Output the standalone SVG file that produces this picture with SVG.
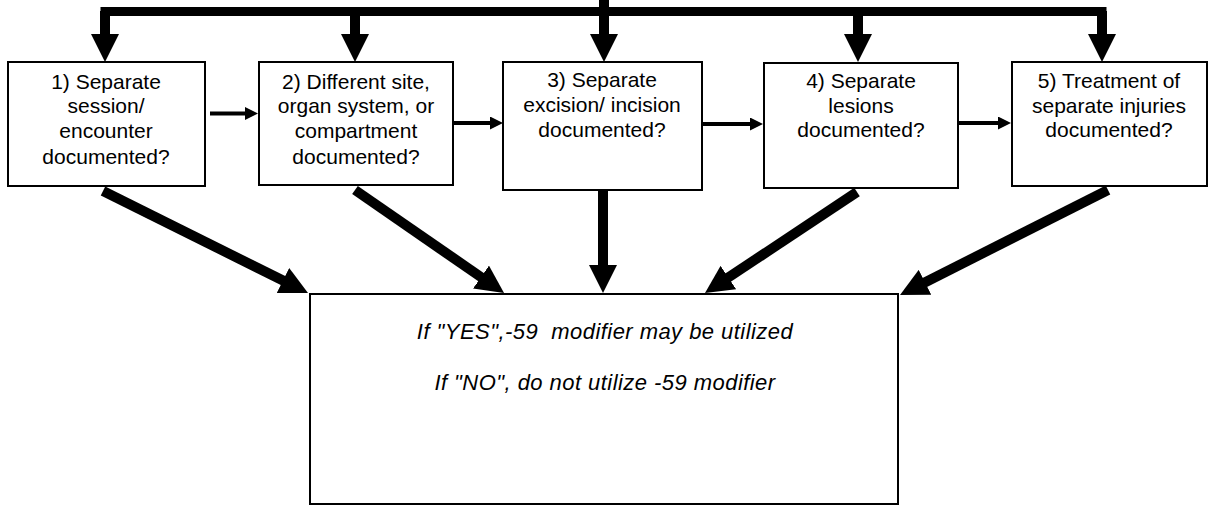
<svg xmlns="http://www.w3.org/2000/svg" width="1209" height="506" viewBox="0 0 1209 506">
<style>
.box{fill:#fff;stroke:#000;stroke-width:2}
.t{font-family:"Liberation Sans",Arial,sans-serif;font-size:21px;fill:#000;text-anchor:middle}
.it{font-family:"Liberation Sans",Arial,sans-serif;font-size:22px;font-style:italic;fill:#000;text-anchor:middle;white-space:pre;letter-spacing:0.45px}
.thick{stroke:#000;stroke-width:10;fill:none}
.thin{stroke:#000;stroke-width:4;fill:none}
</style>
<defs>
<marker id="big" markerUnits="userSpaceOnUse" viewBox="0 0 28 28" markerWidth="28" markerHeight="28" refX="13" refY="14" orient="auto">
<path d="M0,0 L28,14 L0,28 z" fill="#000"/>
</marker>
<marker id="small" markerUnits="userSpaceOnUse" viewBox="0 0 13 13" markerWidth="13" markerHeight="13" refX="6" refY="6.5" orient="auto">
<path d="M0,0 L13,6.5 L0,13 z" fill="#000"/>
</marker>
</defs>
<g id="n1"><rect class="box" x="8" y="62" width="197" height="124"/>
<text class="t" x="106" y="89">1) Separate</text><text class="t" x="106" y="113">session/</text><text class="t" x="106" y="138">encounter</text><text class="t" x="106" y="164">documented?</text></g>
<g id="n2"><rect class="box" x="259" y="62" width="194" height="123"/>
<text class="t" x="356" y="89">2) Different site,</text><text class="t" x="356" y="113">organ system, or</text><text class="t" x="356" y="138">compartment</text><text class="t" x="356" y="164">documented?</text></g>
<g id="n3"><rect class="box" x="503" y="62" width="199" height="128"/>
<text class="t" x="602" y="87">3) Separate</text><text class="t" x="602" y="112">excision/ incision</text><text class="t" x="602" y="137">documented?</text></g>
<g id="n4"><rect class="box" x="764" y="63" width="194" height="125"/>
<text class="t" x="861" y="88">4) Separate</text><text class="t" x="861" y="113">lesions</text><text class="t" x="861" y="137">documented?</text></g>
<g id="n5"><rect class="box" x="1012" y="62" width="195" height="124"/>
<text class="t" x="1109" y="88">5) Treatment of</text><text class="t" x="1109" y="113">separate injuries</text><text class="t" x="1109" y="137">documented?</text></g>
<g id="result"><rect class="box" x="310" y="294" width="588" height="210"/>
<text class="it" x="605" y="339">If "YES",-59  modifier may be utilized</text>
<text class="it" x="605" y="390">If "NO", do not utilize -59 modifier</text></g>
<g id="connectors">
<path class="thick" d="M604,0 V12"/>
<path class="thick" style="stroke-width:9" d="M105,20 V11.5 H1102 V20"/>
<path class="thick" d="M105,11 V47" marker-end="url(#big)"/>
<path class="thick" d="M355,11 V47" marker-end="url(#big)"/>
<path class="thick" d="M604,11 V47" marker-end="url(#big)"/>
<path class="thick" d="M858,11 V47" marker-end="url(#big)"/>
<path class="thick" d="M1102,11 V47" marker-end="url(#big)"/>
<path class="thin" d="M210,113.5 H251" marker-end="url(#small)"/>
<path class="thin" d="M454,123 H496" marker-end="url(#small)"/>
<path class="thin" d="M703,124 H756" marker-end="url(#small)"/>
<path class="thin" d="M958,123 H1004" marker-end="url(#small)"/>
<path class="thick" d="M103,191 L294.6,286.3" marker-end="url(#big)"/>
<path class="thick" d="M355,190 L491.7,284.5" marker-end="url(#big)"/>
<path class="thick" d="M603,190 V278" marker-end="url(#big)"/>
<path class="thick" d="M857,192 L717.5,284.7" marker-end="url(#big)"/>
<path class="thick" d="M1108,190 L913.4,288.2" marker-end="url(#big)"/>
</g>
</svg>
